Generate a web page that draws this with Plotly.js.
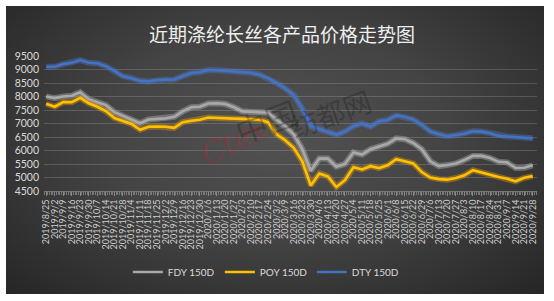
<!DOCTYPE html>
<html>
<head>
<meta charset="utf-8">
<script src="https://cdn.plot.ly/plotly-3.0.1.min.js"></script>
<style>
html,body{margin:0;padding:0;background:#ffffff;width:554px;height:301px;overflow:hidden;}
#wrap{position:absolute;left:6px;top:6px;width:538px;height:288px;
background:radial-gradient(ellipse at 50% 45%, #525252 0%, #444444 45%, #2e2e2e 85%, #262626 100%);}
#chart{position:absolute;left:0;top:0;width:538px;height:288px;}
</style>
</head>
<body>
<div id="wrap"><div id="chart"></div></div>
<script>
const dates = ["2019/8/25","2019/9/2","2019/9/9","2019/9/16","2019/9/23","2019/9/30","2019/10/7","2019/10/14","2019/10/21","2019/10/28",
"2019/11/4","2019/11/11","2019/11/18","2019/11/25","2019/12/2","2019/12/9","2019/12/16","2019/12/23","2019/12/30","2020/1/6",
"2020/1/13","2020/1/20","2020/1/27","2020/2/3","2020/2/10","2020/2/17","2020/2/24","2020/3/2","2020/3/9","2020/3/16",
"2020/3/23","2020/3/30","2020/4/6","2020/4/13","2020/4/20","2020/4/27","2020/5/4","2020/5/11","2020/5/18","2020/5/25",
"2020/6/1","2020/6/8","2020/6/15","2020/6/22","2020/6/29","2020/7/6","2020/7/13","2020/7/20","2020/7/27","2020/8/3",
"2020/8/10","2020/8/17","2020/8/24","2020/8/31","2020/9/7","2020/9/14","2020/9/21","2020/9/28"];

const fdy150 = [8000,7940,8000,8030,8160,7900,7790,7680,7420,7280,
7120,7010,7150,7180,7190,7250,7450,7600,7620,7740,
7750,7720,7600,7450,7430,7430,7400,7140,6900,6600,
6050,5250,5700,5700,5400,5500,5930,5850,6050,6150,
6250,6450,6420,6280,6050,5600,5420,5460,5520,5650,
5800,5800,5720,5580,5560,5350,5360,5450];

const poy150 = [7730,7620,7790,7790,7950,7750,7620,7460,7200,7080,
6980,6770,6880,6890,6880,6840,7050,7100,7140,7220,
7200,7190,7180,7170,7150,7140,7050,6600,6380,6100,
5600,4700,5150,5040,4650,4900,5380,5300,5420,5350,
5450,5680,5600,5520,5200,5000,4940,4920,4980,5080,
5270,5180,5100,5020,4950,4860,4990,5050];

const dty150 = [9100,9100,9200,9250,9350,9250,9230,9120,8950,8750,
8680,8580,8560,8610,8620,8630,8750,8870,8900,8980,
8970,8950,8930,8920,8880,8810,8680,8500,8300,8050,
7550,6900,6800,6700,6580,6700,6900,7000,6880,7080,
7130,7300,7250,7150,6950,6700,6600,6530,6570,6620,
6710,6700,6640,6540,6520,6500,6460,6450];

const seriesNames = ["FDY 150D","POY 150D","DTY 150D"];
const seriesData = [fdy150, poy150, dty150];
const colors = ["#a9a9a9","#ffc000","#4472c4"];
const glows = ["rgba(200,200,200,0.35)","rgba(255,170,0,0.35)","rgba(80,130,220,0.35)"];

const idx = dates.map((d,i)=>i);
const traces = [];
seriesData.forEach((arr,k)=>{
  traces.push({x: idx, y: arr, type:'scatter', mode:'lines', hoverinfo:'skip',
    line:{color: glows[k], width: 6}, showlegend:false});
});
seriesData.forEach((arr,k)=>{
  traces.push({x: idx, y: arr, type:'scatter', mode:'lines', name: seriesNames[k],
    line:{color: colors[k], width: 2.6}});
});

const layout = {
  width:538, height:288,
  margin:{l:38, r:7, t:50, b:99},
  paper_bgcolor:'rgba(0,0,0,0)', plot_bgcolor:'rgba(0,0,0,0)',
  font:{family:'Lato, "Open Sans", sans-serif', color:'#d9d9d9'},
  title:{text:'近期涤纶长丝各产品价格走势图', xref:'container', yref:'container',
    x:0.513, y:0.899, xanchor:'center', yanchor:'middle',
    font:{family:'"Noto Sans CJK SC", sans-serif', size:19, color:'#eeeeee'}},
  xaxis:{range:[-0.25,57.5], tickmode:'array', tickvals: idx, ticktext: dates,
    tickangle:-90, tickfont:{size:9, color:'#d0d0d0'}, showgrid:false, zeroline:false,
    showline:true, linecolor:'#777777', linewidth:1, ticks:'outside', ticklen:4, tickcolor:'#888888',
    minor:{dtick:0.2, ticks:'outside', ticklen:3, tickcolor:'#777777', showgrid:false}},
  yaxis:{range:[4500,9500], dtick:500, tick0:4500, tickfont:{size:10.5, color:'#d9d9d9'},
    gridcolor:'rgba(255,255,255,0.16)', gridwidth:1, zeroline:false, showline:false, ticks:'',
    ticklabelstandoff:4},
  legend:{orientation:'h', x:0.45, xanchor:'center', y:-0.6, yanchor:'middle',
    font:{size:10, color:'#d9d9d9'}, bgcolor:'rgba(0,0,0,0)', itemwidth:30, tracegroupgap:0,
    entrywidth:47, entrywidthmode:'pixels'},
  annotations:[
    {text:'中国', xref:'paper', yref:'paper', x:0.45, y:0.26, showarrow:false, textangle:-20,
      font:{family:'"Noto Sans CJK SC"', size:32, color:'rgba(20,20,20,0.28)'}},
    {text:'纺都网', xref:'paper', yref:'paper', x:0.68, y:0.58, showarrow:false, textangle:-20,
      font:{family:'"Noto Sans CJK SC"', size:28, color:'rgba(20,20,20,0.28)'}},
    {text:'<i>Ctex</i>', xref:'paper', yref:'paper', x:0.30, y:0.12, showarrow:false, textangle:-25,
      font:{family:'"DejaVu Serif"', size:30, color:'rgba(200,30,40,0.30)'}}
  ]
};

Plotly.newPlot('chart', traces, layout, {staticPlot:true, displayModeBar:false});
</script>
</body>
</html>
